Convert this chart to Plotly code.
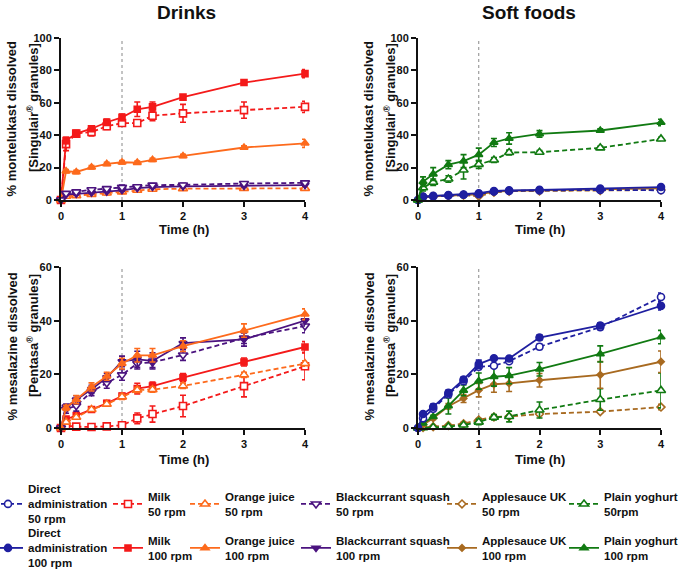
import plotly.graph_objects as go

# ---------------- data ----------------
time_h = [0, 0.083, 0.25, 0.5, 0.75, 1, 1.25, 1.5, 2, 3, 4]
ref_time = 1

# Montelukast (Singulair granules) - Drinks
mon_milk100 = [0, 36.7, 41, 44, 48, 51, 56, 57.5, 63.5, 72.5, 78]
mon_milk100_sd = [0, 2, 1.5, 1.5, 2, 2, 4.5, 3, 1, 1.5, 2.5]
mon_milk50 = [0, 34.5, 41, 42, 45.5, 47.5, 47.5, 52, 53.5, 55.5, 57.5]
mon_milk50_sd = [0, 4, 2, 2.5, 2, 2, 1.5, 3, 5.5, 5, 3.5]
mon_oj100 = [0, 17.8, 17.3, 20.2, 22.3, 23.3, 23.1, 24.8, 27.2, 32.4, 35]
mon_oj100_sd = [0, 1, 1, 1, 1, 1, 1, 1, 1, 1, 2.5]
mon_oj50 = [0, 2.3, 2.7, 3.5, 4.3, 5, 6, 6.6, 7, 7.2, 7.2]
mon_oj50_sd = [0, 1, 1, 1, 1, 1, 1, 1, 1, 1, 1]
mon_bc100 = [0, 3.4, 3.8, 4.5, 5.2, 6, 7.3, 8, 8.4, 8.7, 9.2]
mon_bc100_sd = [0, 0.5, 0.5, 0.5, 0.5, 0.5, 0.5, 0.5, 0.5, 0.5, 0.5]
mon_bc50 = [0, 4.1, 5, 6.3, 7, 7.8, 8.2, 9.2, 9.3, 10.2, 10.6]
mon_bc50_sd = [0, 1, 1, 1, 1, 1.5, 1, 1, 1, 1, 1]

# Montelukast - Soft foods
mon_direct100 = [0, 2.2, 2.6, 3, 3.4, 4.2, 5.6, 6, 6.3, 7, 8]
mon_direct100_sd = [0, 0.5, 0.5, 0.5, 0.5, 0.5, 0.5, 0.5, 0.5, 0.5, 0.5]
mon_direct50 = [0, 1.8, 2.2, 2.8, 3.2, 3.6, 5.2, 5.6, 5.9, 6.2, 6]
mon_direct50_sd = [0, 0.5, 0.5, 0.5, 0.5, 0.5, 0.5, 0.5, 0.5, 0.5, 0.5]
mon_apple100 = [0, 2, 2.3, 2.8, 3.1, 3.5, 5, 5.6, 5.9, 6.6, 7.2]
mon_apple100_sd = [0, 0.5, 0.5, 0.5, 0.5, 0.5, 0.5, 0.5, 0.5, 0.5, 0.5]
mon_apple50 = [0, 1.8, 2.1, 2.6, 3, 2.4, 4.8, 5.4, 5.6, 5.9, 6.2]
mon_apple50_sd = [0, 0.5, 0.5, 0.5, 0.5, 0.5, 0.5, 0.5, 0.5, 0.5, 0.5]
mon_yog100 = [0, 11.3, 16, 21.8, 24, 28, 35.5, 38, 40.8, 42.9, 47.8]
mon_yog100_sd = [0, 3, 4, 2.5, 4, 4, 2.5, 3.5, 2, 1, 2]
mon_yog50 = [0, 7.6, 11, 13, 18.5, 22, 24.7, 29.3, 29.5, 32.2, 37.7]
mon_yog50_sd = [0, 2, 2, 2, 5.5, 2.5, 1.5, 1.5, 1, 1, 1]

# Mesalazine (Pentasa granules) - Drinks
mes_milk100 = [0, 3.3, 4.6, 6.9, 9.2, 11.9, 14.7, 15.6, 18.8, 24.6, 30.2]
mes_milk100_sd = [0, 0.5, 0.5, 0.5, 1, 1, 2, 1.5, 1.5, 1.5, 2]
mes_milk50 = [0, 0.9, 0.5, 0.4, 0.6, 1, 3.6, 5.2, 8.2, 15.6, 23]
mes_milk50_sd = [0, 0.3, 0.3, 0.3, 0.3, 0.5, 2, 3, 4, 4, 5]
mes_oj100 = [0, 7.5, 10.6, 15.3, 19.3, 24, 27.1, 27.1, 30.5, 36.3, 42.4]
mes_oj100_sd = [0, 1, 1.5, 1.5, 1.5, 2, 2.5, 2.5, 2, 2.5, 2]
mes_oj50 = [0, 2.2, 4, 6.9, 8.9, 11.6, 14.2, 14.3, 15.7, 19.8, 24]
mes_oj50_sd = [0, 0.5, 0.5, 0.5, 0.5, 1, 1, 1, 1, 1, 1]
mes_bc100 = [0, 7.9, 10.5, 14.4, 18.8, 24.8, 25.6, 25, 31.6, 33, 40]
mes_bc100_sd = [0, 1, 1.5, 1.5, 1.5, 2, 3, 3, 2, 2.5, 2]
mes_bc50 = [0, 7, 8.3, 13.5, 16.8, 19.8, 24, 24.5, 27.2, 33.5, 38]
mes_bc50_sd = [0, 1.5, 2, 1.5, 2, 2, 2, 2, 2, 2, 2.5]

# Mesalazine - Soft foods
mes_direct100 = [0, 5.2, 7.9, 13.1, 18.1, 23.8, 26, 25.9, 33.7, 38.2, 45.5]
mes_direct100_sd = [0, 0.5, 1, 1, 1, 1.5, 0.5, 0.5, 1, 1, 1.5]
mes_direct50 = [0, 3.6, 7.2, 12.5, 17.4, 22.8, 23.2, 24.9, 30.3, 37.6, 48.8]
mes_direct50_sd = [0, 0.5, 1, 1, 1, 1, 0.5, 0.5, 1, 1, 1.5]
mes_apple100 = [0, 1.2, 3.6, 8.1, 11, 14.1, 16.3, 16.6, 17.8, 19.8, 24.7]
mes_apple100_sd = [0, 0.5, 0.5, 1, 1.5, 2.5, 3, 3, 2.5, 5, 4]
mes_apple50 = [0, 0.2, 0.5, 0.9, 1.6, 3, 4.1, 4.3, 5.2, 6.1, 7.8]
mes_apple50_sd = [0, 0.2, 0.2, 0.3, 0.5, 0.5, 0.5, 0.5, 0.5, 0.5, 1]
mes_yog100 = [0, 1.8, 4.2, 8.2, 14, 17.5, 19.1, 19.5, 21.9, 27.6, 33.9]
mes_yog100_sd = [0, 0.5, 0.5, 3, 2, 3, 3.5, 3, 2.5, 3, 2.5]
mes_yog50 = [0, 0.1, 0.3, 0.5, 1.1, 2.2, 4, 4.3, 6.7, 10.6, 14]
mes_yog50_sd = [0, 0.2, 0.2, 0.3, 0.5, 1, 1, 2, 3, 4, 6.5]

x_ticks = [0, 1, 2, 3, 4]
mon_ticks = [0, 20, 40, 60, 80, 100]
mes_ticks = [0, 20, 40, 60]

panel_titles = ["Drinks", "Soft foods"]
x_title = "Time (h)"
mon_title = ["% montelukast dissolved", "[Singulair<sup>®</sup> granules]"]
mes_title = ["% mesalazine dissolved", "[Pentasa<sup>®</sup> granules]"]

legend_labels = {
    "direct50": "Direct<br>administration<br>50 rpm",
    "milk50": "Milk<br>50 rpm",
    "oj50": "Orange juice<br>50 rpm",
    "bc50": "Blackcurrant squash<br>50 rpm",
    "apple50": "Applesauce UK<br>50 rpm",
    "yog50": "Plain yoghurt<br>50rpm",
    "direct100": "Direct<br>administration<br>100 rpm",
    "milk100": "Milk<br>100 rpm",
    "oj100": "Orange juice<br>100 rpm",
    "bc100": "Blackcurrant squash<br>100 rpm",
    "apple100": "Applesauce UK<br>100 rpm",
    "yog100": "Plain yoghurt<br>100 rpm",
}

# ---------------- styles ----------------
BLUE = "#1f1fa0"
RED = "#f41a1a"
ORANGE = "#fd6a1c"
PURPLE = "#4b137f"
BROWN = "#a86a20"
GREEN = "#117a12"

STYLE = {
    "direct50": dict(color=BLUE, symbol="circle", open=True, dash=True, size=7),
    "direct100": dict(color=BLUE, symbol="circle", open=False, dash=False, size=7),
    "milk50": dict(color=RED, symbol="square", open=True, dash=True, size=7),
    "milk100": dict(color=RED, symbol="square", open=False, dash=False, size=6),
    "oj50": dict(color=ORANGE, symbol="triangle-up", open=True, dash=True, size=8),
    "oj100": dict(color=ORANGE, symbol="triangle-up", open=False, dash=False, size=7),
    "bc50": dict(color=PURPLE, symbol="triangle-down", open=True, dash=True, size=8),
    "bc100": dict(color=PURPLE, symbol="triangle-down", open=False, dash=False, size=7),
    "apple50": dict(color=BROWN, symbol="diamond", open=True, dash=True, size=6),
    "apple100": dict(color=BROWN, symbol="diamond", open=False, dash=False, size=5),
    "yog50": dict(color=GREEN, symbol="triangle-up", open=True, dash=True, size=8),
    "yog100": dict(color=GREEN, symbol="triangle-up", open=False, dash=False, size=7),
}

W, H = 680, 569
FONT = "Liberation Sans, Arial, sans-serif"


def fx(p):
    return p / W


def fy(p):
    return 1 - p / H


def style_kw(key):
    s = STYLE[key]
    c = s["color"]
    return dict(
        mode="lines+markers",
        line=dict(color=c, width=1.8, dash="5px,3px" if s["dash"] else "solid"),
        marker=dict(symbol=s["symbol"], size=s["size"],
                    color="white" if s["open"] else c,
                    line=dict(color=c, width=1.6)),
    )


fig = go.Figure()

panels = [
    ("x", "y", [("milk50", mon_milk50, mon_milk50_sd), ("milk100", mon_milk100, mon_milk100_sd),
                ("oj100", mon_oj100, mon_oj100_sd), ("oj50", mon_oj50, mon_oj50_sd),
                ("bc100", mon_bc100, mon_bc100_sd), ("bc50", mon_bc50, mon_bc50_sd)]),
    ("x2", "y2", [("apple50", mon_apple50, mon_apple50_sd), ("apple100", mon_apple100, mon_apple100_sd),
                  ("direct50", mon_direct50, mon_direct50_sd), ("direct100", mon_direct100, mon_direct100_sd),
                  ("yog50", mon_yog50, mon_yog50_sd), ("yog100", mon_yog100, mon_yog100_sd)]),
    ("x3", "y3", [("milk50", mes_milk50, mes_milk50_sd), ("milk100", mes_milk100, mes_milk100_sd),
                  ("oj50", mes_oj50, mes_oj50_sd), ("bc50", mes_bc50, mes_bc50_sd),
                  ("bc100", mes_bc100, mes_bc100_sd), ("oj100", mes_oj100, mes_oj100_sd)]),
    ("x4", "y4", [("apple50", mes_apple50, mes_apple50_sd), ("yog50", mes_yog50, mes_yog50_sd),
                  ("apple100", mes_apple100, mes_apple100_sd), ("yog100", mes_yog100, mes_yog100_sd),
                  ("direct50", mes_direct50, mes_direct50_sd), ("direct100", mes_direct100, mes_direct100_sd)]),
]

for xa, ya, series in panels:
    for key, yv, sd in series:
        c = STYLE[key]["color"]
        fig.add_trace(go.Scatter(
            x=time_h, y=yv, xaxis=xa, yaxis=ya, showlegend=False, cliponaxis=False,
            error_y=dict(type="data", array=sd, color=c, thickness=1.6, width=3),
            **style_kw(key)))

# legend entries (one legend per entry for exact placement)
legend_order = ["direct50", "milk50", "oj50", "bc50", "apple50", "yog50",
                "direct100", "milk100", "oj100", "bc100", "apple100", "yog100"]
text_left_px = [28, 148, 225, 336, 482, 604]
row_center_px = [504, 548]
layout_legends = {}
for i, key in enumerate(legend_order):
    lname = "legend" if i == 0 else f"legend{i + 1}"
    fig.add_trace(go.Scatter(x=[None], y=[None], xaxis="x", yaxis="y",
                             name=legend_labels[key], legend=lname, showlegend=True,
                             **style_kw(key)))
    col = i % 6
    row = i // 6
    layout_legends[lname] = dict(
        x=fx(text_left_px[col] - 40), y=fy(row_center_px[row]),
        xanchor="left", yanchor="middle", bgcolor="rgba(0,0,0,0)",
        font=dict(family=FONT, size=11.5, color="#111", weight="bold"),
        itemwidth=30, tracegroupgap=0, borderwidth=0,
    )

# axes
col_x = [(61, 305), (418, 661)]
row_y = [(38, 200), (267, 428)]
axis_common = dict(showline=True, linewidth=2, linecolor="#111", ticks="outside",
                   ticklen=5, tickwidth=2, tickcolor="#111", showgrid=False, zeroline=False,
                   tickfont=dict(family=FONT, size=11, color="#111", weight="bold"))
layout_axes = {}
for idx in range(4):
    r, c = divmod(idx, 2)
    xn = "xaxis" if idx == 0 else f"xaxis{idx + 1}"
    yn = "yaxis" if idx == 0 else f"yaxis{idx + 1}"
    x0, x1 = col_x[c]
    y0, y1 = row_y[r]
    layout_axes[xn] = dict(domain=[fx(x0), fx(x1)], range=[0, 4], tickvals=x_ticks,
                           anchor="y" if idx == 0 else f"y{idx + 1}", **axis_common)
    ticks = mon_ticks if r == 0 else mes_ticks
    layout_axes[yn] = dict(domain=[fy(y1), fy(y0)], range=[0, ticks[-1]], tickvals=ticks,
                           anchor="x" if idx == 0 else f"x{idx + 1}", **axis_common)

# reference dotted line at 1 h
shapes = []
for idx in range(4):
    r = idx // 2
    ticks = mon_ticks if r == 0 else mes_ticks
    xr = "x" if idx == 0 else f"x{idx + 1}"
    yr = "y" if idx == 0 else f"y{idx + 1}"
    shapes.append(dict(type="line", xref=xr, yref=yr, x0=ref_time, x1=ref_time,
                       y0=0, y1=ticks[-1], line=dict(color="#888", width=1, dash="dot"),
                       layer="below"))

# annotations
ann = []
title_font = dict(family=FONT, size=19, color="#111", weight="bold")
axt_font = dict(family=FONT, size=13, color="#111", weight="bold")
for c, (cx, t) in enumerate(zip([186, 529], panel_titles)):
    ann.append(dict(text=t, x=fx(cx), y=fy(13), xref="paper", yref="paper",
                    xanchor="center", yanchor="middle", showarrow=False, font=title_font))
for c, cx in enumerate([184, 540]):
    for cy in [230, 459]:
        ann.append(dict(text=x_title, x=fx(cx), y=fy(cy), xref="paper", yref="paper",
                        xanchor="center", yanchor="middle", showarrow=False, font=axt_font))
for c, ax0 in enumerate([0, 357]):
    for r, (lines, cy) in enumerate([(mon_title, 119), (mes_title, 347)]):
        ann.append(dict(text=lines[0], x=fx(ax0 + 11.5), y=fy(cy), xref="paper", yref="paper",
                        xanchor="center", yanchor="middle", textangle=-90, showarrow=False,
                        font=axt_font))
        ann.append(dict(text=lines[1], x=fx(ax0 + 33), y=fy(cy - 11), xref="paper", yref="paper",
                        xanchor="center", yanchor="middle", textangle=-90, showarrow=False,
                        font=axt_font))

fig.update_layout(
    width=W, height=H, margin=dict(l=0, r=0, t=0, b=0, pad=0, autoexpand=False),
    paper_bgcolor="white", plot_bgcolor="white",
    font=dict(family=FONT, color="#111", weight="bold"),
    shapes=shapes, annotations=ann,
    **layout_axes, **layout_legends,
)

fig.write_html("out.html", config={"displayModeBar": False},
               post_script="document.body.style.margin='0';document.body.style.overflow='hidden';")
